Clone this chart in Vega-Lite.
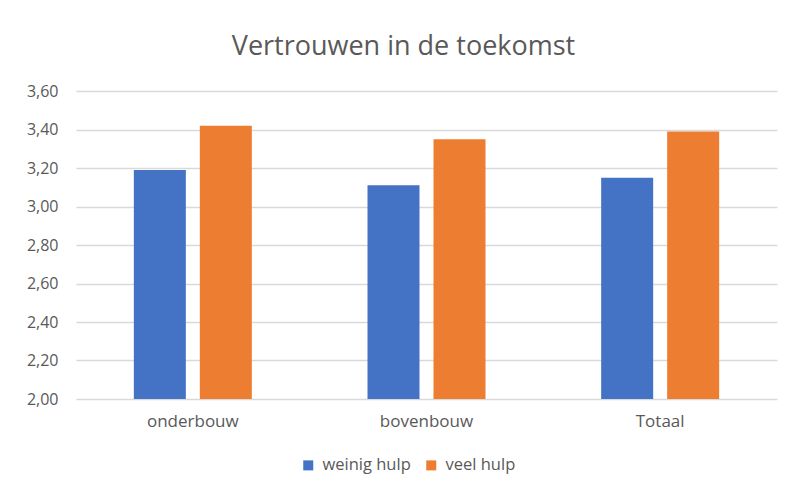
{
  "$schema": "https://vega.github.io/schema/vega-lite/v6.json",
  "autosize": {"type": "none"},
  "width": 701,
  "height": 308,
  "padding": {"left": 76, "top": 91, "right": 15, "bottom": 93},
  "background": "white",
  "title": {
    "text": "Vertrouwen in de toekomst",
    "fontSize": 27,
    "font": "Open Sans",
    "fontWeight": "normal",
    "color": "#595959",
    "anchor": "middle",
    "dx": -23,
    "offset": 22
  },
  "data": {
    "values": [
      {"groep": "onderbouw", "hulp": "weinig hulp", "waarde": 3.19},
      {"groep": "onderbouw", "hulp": "veel hulp", "waarde": 3.42},
      {"groep": "bovenbouw", "hulp": "weinig hulp", "waarde": 3.11},
      {"groep": "bovenbouw", "hulp": "veel hulp", "waarde": 3.35},
      {"groep": "Totaal", "hulp": "weinig hulp", "waarde": 3.15},
      {"groep": "Totaal", "hulp": "veel hulp", "waarde": 3.39}
    ]
  },
  "mark": {"type": "bar", "clip": true},
  "encoding": {
    "x": {
      "field": "groep",
      "type": "nominal",
      "sort": ["onderbouw", "bovenbouw", "Totaal"],
      "scale": {"paddingInner": 0.495, "paddingOuter": 0.2475},
      "axis": {
        "title": null,
        "labelAngle": 0,
        "ticks": false,
        "domain": false,
        "labelFont": "Open Sans",
        "labelFontSize": 17,
        "labelColor": "#595959",
        "labelPadding": 14
      }
    },
    "xOffset": {
      "field": "hulp",
      "type": "nominal",
      "sort": ["weinig hulp", "veel hulp"],
      "scale": {"paddingInner": 0.212, "paddingOuter": 0}
    },
    "y": {
      "field": "waarde",
      "type": "quantitative",
      "scale": {"domain": [2, 3.6], "nice": false, "zero": false},
      "axis": {
        "title": null,
        "values": [2, 2.2, 2.4, 2.6, 2.8, 3, 3.2, 3.4, 3.6],
        "labelExpr": "replace(format(datum.value, '.2f'), '.', ',')",
        "ticks": false,
        "domain": false,
        "grid": true,
        "gridColor": "#D9D9D9",
        "gridWidth": 1.5,
        "labelFont": "Open Sans",
        "labelFontSize": 16,
        "labelColor": "#595959",
        "labelPadding": 18
      }
    },
    "color": {
      "field": "hulp",
      "type": "nominal",
      "sort": ["weinig hulp", "veel hulp"],
      "scale": {"domain": ["weinig hulp", "veel hulp"], "range": ["#4472C4", "#ED7D31"]},
      "legend": {
        "title": null,
        "orient": "none",
        "direction": "horizontal",
        "legendX": 224,
        "legendY": 366,
        "symbolType": "square",
        "symbolSize": 100,
        "symbolStrokeWidth": 0,
        "labelFont": "Open Sans",
        "labelFontSize": 16.5,
        "labelColor": "#595959",
        "labelOffset": 6,
        "columnPadding": 12
      }
    }
  },
  "config": {"view": {"stroke": null}}
}
